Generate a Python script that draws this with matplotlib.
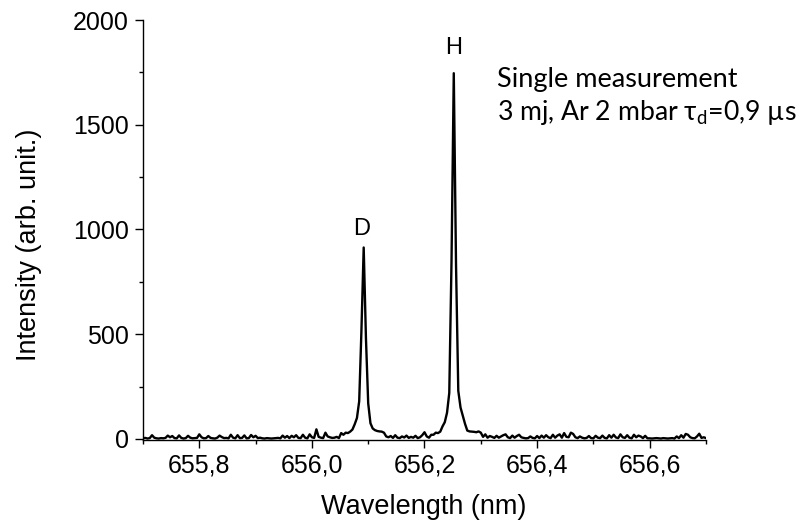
import numpy as np
import matplotlib
matplotlib.use("Agg")
import matplotlib.pyplot as plt

# ---- data ----
wl_start = 655.700
wl_step = 0.004
intensity = [
    3, 5, 2, 4, 18, 6, 3, 2, 4, 3,
    5, 16, 8, 14, 4, 3, 17, 5, 2, 4,
    15, 6, 3, 4, 5, 22, 8, 3, 4, 14,
    5, 3, 2, 6, 16, 9, 4, 5, 3, 20,
    6, 3, 18, 4, 5, 17, 3, 4, 19, 8,
    15, 4, 6, 3, 2, 4, 3, 2, 3, 4,
    5, 3, 16, 6, 14, 4, 15, 8, 18, 5,
    4, 20, 6, 3, 22, 8, 5, 46, 10, 6,
    4, 30, 12, 8, 5, 6, 10, 4, 28, 20,
    30, 28, 35, 45, 70, 100, 180, 520, 914, 480,
    170, 75, 50, 42, 38, 36, 35, 30, 12, 8,
    14, 5, 18, 6, 4, 12, 7, 16, 5, 10,
    6, 15, 4, 8, 18, 32, 12, 6, 20, 20,
    30, 28, 35, 60, 80, 125, 220, 850, 1746, 830,
    230, 150, 110, 72, 40, 36, 35, 34, 32, 36,
    30, 10, 22, 6, 14, 10, 5, 15, 6, 12,
    18, 22, 8, 4, 16, 6, 14, 20, 8, 5,
    3, 4, 12, 5, 3, 14, 4, 16, 6, 18,
    8, 4, 20, 6, 16, 22, 6, 28, 10, 8,
    30, 24, 8, 4, 12, 6, 3, 5, 14, 4,
    3, 15, 6, 4, 16, 5, 3, 18, 6, 20,
    7, 4, 22, 8, 5, 18, 6, 3, 20, 8,
    16, 12, 4, 15, 3, 3, 2, 3, 4, 3,
    2, 4, 3, 2, 3, 4, 2, 12, 4, 18,
    6, 24, 20, 8, 4, 3, 12, 25, 5, 8,
    4,
]
wavelength = wl_start + wl_step * np.arange(len(intensity))

x_ticks = [655.8, 656.0, 656.2, 656.4, 656.6]
x_ticklabels = ["655,8", "656,0", "656,2", "656,4", "656,6"]
y_ticks = [0, 500, 1000, 1500, 2000]
peak_labels = [("D", 656.088, 1000), ("H", 656.252, 1865)]

# ---- figure ----
W, H = 801, 526
fig = plt.figure(figsize=(W / 100, H / 100), dpi=100)
ax = fig.add_axes([143 / W, 1 - 440 / H, (706 - 143) / W, (440 - 20) / H])

ax.plot(wavelength, intensity, color="black", lw=1.7)
ax.set_xlim(655.7, 656.7)
ax.set_ylim(-5, 2000)

for s in ("top", "right"):
    ax.spines[s].set_visible(False)
for s in ("left", "bottom"):
    ax.spines[s].set_linewidth(1.0)

ax.set_xticks(x_ticks)
ax.set_xticklabels(x_ticklabels)
ax.set_xticks(np.arange(655.7, 656.71, 0.1), minor=True)
ax.set_yticks(y_ticks)
ax.set_yticks(np.arange(0, 2001, 250), minor=True)

for lab in ax.get_xticklabels() + ax.get_yticklabels():
    lab.set_fontfamily("Liberation Sans")
    lab.set_fontsize(18)
ax.tick_params(which="major", direction="out", length=5.5, width=1.0, pad=4.5)
ax.tick_params(which="minor", direction="out", length=3, width=1.0)

for txt, xv, yv in peak_labels:
    ax.text(xv, yv, txt, ha="center", va="center", fontsize=17,
            family="Liberation Sans")

fig.text(424 / W, 1 - 507 / H, "Wavelength (nm)", ha="center", va="center",
         fontsize=19.5, family="Liberation Sans")
fig.text(29 / W, 1 - 245 / H, "Intensity (arb. unit.)", ha="center",
         va="center", rotation=90, fontsize=19.5, family="Liberation Sans")

fig.text(497 / W, 1 - 87 / H, "Single measurement", ha="left",
         va="baseline", fontsize=19.5, family="Lato")
fig.text(497 / W, 1 - 120 / H, r"3 mj, Ar 2 mbar $\mathregular{\tau_d}$=0,9 µs",
         ha="left", va="baseline", fontsize=19.2, family="Lato")

fig.savefig("out.png", dpi=100)
